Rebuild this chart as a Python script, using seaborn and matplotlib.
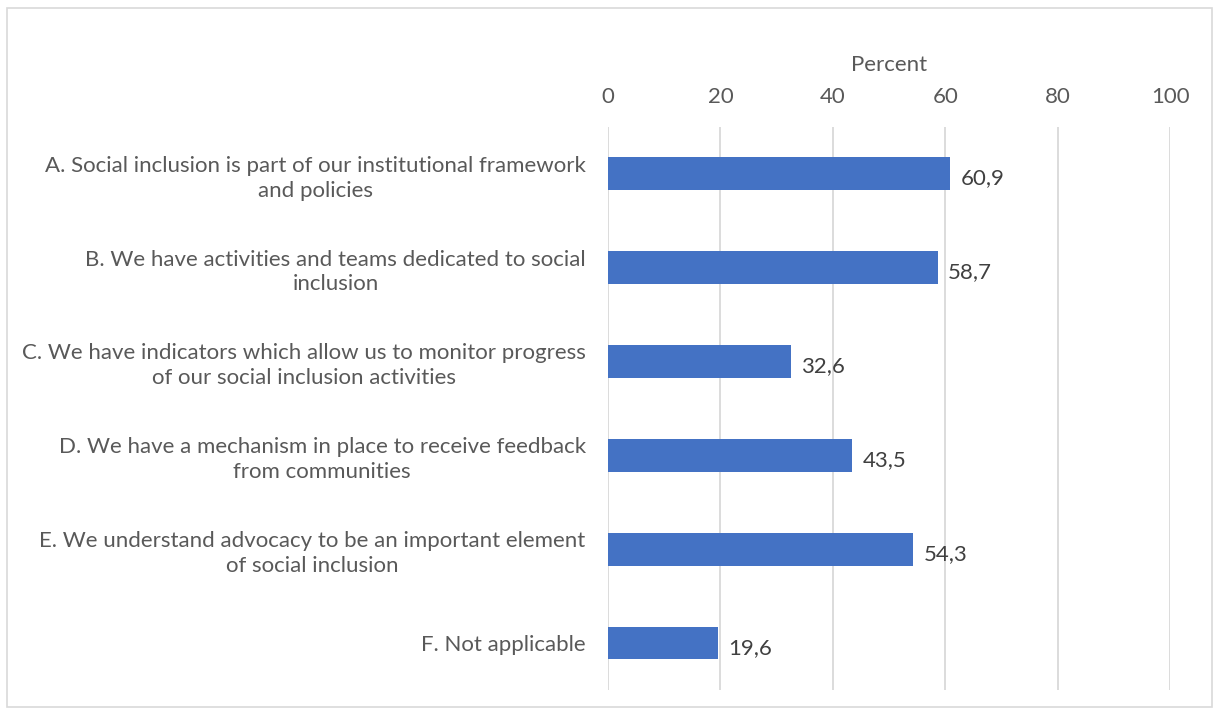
import matplotlib
matplotlib.use("Agg")
import matplotlib.pyplot as plt
from matplotlib.patches import Rectangle
import seaborn as sns
import pandas as pd

categories = [
    "A. Social inclusion is part of our institutional framework\nand policies",
    "B. We have activities and teams dedicated to social\ninclusion",
    "C. We have indicators which allow us to monitor progress\nof our social inclusion activities",
    "D. We have a mechanism in place to receive feedback\nfrom communities",
    "E. We understand advocacy to be an important element\nof social inclusion",
    "F. Not applicable",
]
values = [60.9, 58.7, 32.6, 43.5, 54.3, 19.6]
x_ticks = [0, 20, 40, 60, 80, 100]

sns.set_theme(style="white")
plt.rcParams["font.family"] = ["Lato", "DejaVu Sans"]
text_color = "#595959"
bar_color = "#4472C4"
fs = 16

df = pd.DataFrame({"category": categories, "percent": values})

fig = plt.figure(figsize=(12.14, 7.15), dpi=100)
ax = fig.add_axes([0.5008, 0.035, 0.4630, 0.7876])

sns.barplot(data=df, y="category", x="percent", orient="h", color=bar_color,
            width=0.35, saturation=1, ax=ax, edgecolor="none")

ax.set_xlim(0, 100)
ax.set_xticks(x_ticks)
ax.xaxis.tick_top()
ax.xaxis.set_label_position("top")
ax.set_xlabel("Percent", fontsize=fs, color=text_color, labelpad=12)
ax.set_ylabel("")
ax.tick_params(axis="x", length=0, labelsize=fs, labelcolor=text_color, pad=14)
ax.tick_params(axis="y", length=0, labelsize=fs, labelcolor=text_color, pad=16)
for lbl in ax.get_yticklabels():
    lbl.set_multialignment("center")
    lbl.set_linespacing(1.3)

ax.grid(axis="x", color="#D9D9D9", linewidth=1.3)
ax.set_axisbelow(True)
for s in ax.spines.values():
    s.set_visible(False)

for i, v in enumerate(values):
    ax.text(v + 1.8, i + 0.05, f"{v:.1f}".replace(".", ","), va="center", ha="left",
            fontsize=fs, color="#404040")

fig.patches.append(Rectangle((7 / 1214, 8 / 715), 1205 / 1214, 1 - 16 / 715,
                             transform=fig.transFigure, fill=False,
                             edgecolor="#D9D9D9", linewidth=1.2))

fig.savefig("out.png", dpi=100)
